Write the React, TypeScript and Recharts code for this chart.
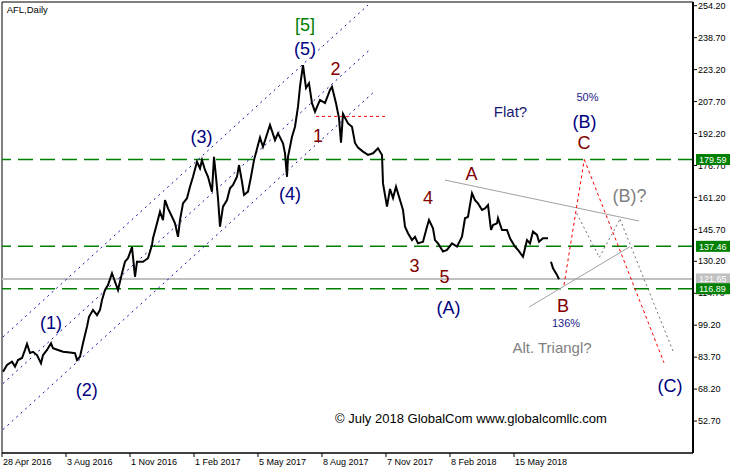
import React from 'react';
import {
  ComposedChart,
  Line,
  XAxis,
  YAxis,
  ReferenceLine,
  ReferenceArea,
  Scatter,
} from 'recharts';

// ---- price series (bar index, approximate close) ----
const barIndex = [
  1, 5, 10, 13, 16, 20, 23, 25, 28, 31,
  35, 39, 41, 45, 49, 51, 56, 61, 68, 73,
  75, 78, 81, 85, 87, 91, 95, 98, 100, 103,
  106, 110, 113, 116, 120, 123, 126, 130, 133, 135,
  141, 146, 150, 151, 155, 158, 161, 163, 166, 170,
  173, 176, 178, 181, 185, 188, 191, 195, 198, 200,
  203, 206, 210, 212, 214, 216, 218, 221, 225, 228,
  231, 235, 237, 240, 242, 246, 249, 252, 258, 261,
  268, 273, 276, 281, 283, 285, 286, 290, 293, 296,
  298, 301, 304, 307, 310, 313, 318, 323, 328, 330,
  334, 337, 339, 341, 346, 350, 353, 356, 361, 366,
  371, 376, 380, 381, 385, 388, 391, 394, 398, 401,
  403, 406, 410, 413, 416, 421, 425, 427, 431, 433,
  436, 441, 445, 450, 455, 460, 463, 466, 470, 473,
  476, 480, 483, 486, 489, 491, 495, 496, 500, 505,
  508, 513, 516, 521, 525, 528, 531, 535, 537, 541,
  546, 547, 549, 551, 555, 557,
];

const closePrice: (number | null)[] = [
  76.6, 79.9, 81.5, 79.1, 82.3, 83.3, 87.2, 90.1, 85.7, 86.3,
  84.7, 80.7, 84.7, 87.2, 90.4, 88.0, 87.2, 86.3, 85.9, 85.6,
  82.3, 83.9, 90.4, 98.5, 103.3, 106.6, 104.1, 106.6, 111.4, 116.3,
  118.7, 124.4, 120.3, 116.3, 124.4, 130.0, 131.7, 137.1, 122.7, 130.0,
  130.0, 131.7, 138.1, 141.4, 148.6, 154.3, 150.2, 159.9, 155.9, 151.8,
  148.6, 142.1, 150.2, 158.3, 160.8, 166.4, 171.2, 178.5, 175.3, 179.3,
  174.5, 171.2, 164.0, 180.9, 171.2, 160.8, 147.0, 156.7, 159.9, 165.6,
  167.2, 171.2, 176.9, 168.8, 162.4, 164.0, 171.2, 179.3, 190.3, 185.8,
  196.3, 189.0, 192.3, 187.4, 182.6, 171.2, 180.9, 190.6, 195.5, 205.2,
  214.9, 225.4, 214.3, 216.6, 206.9, 202.8, 208.5, 207.0, 213.3, 214.9,
  206.9, 199.7, 187.8, 201.7, 197.1, 195.5, 187.6, 185.4, 183.4, 181.8,
  182.6, 185.0, 181.8, 168.0, 156.7, 165.3, 160.9, 166.4, 159.9, 155.1,
  147.0, 143.8, 140.5, 142.1, 138.9, 139.7, 147.0, 150.2, 146.2, 140.5,
  138.9, 134.9, 135.7, 138.9, 137.3, 142.1, 151.1, 151.8, 163.2, 159.9,
  158.3, 155.1, 155.9, 157.5, 145.4, 147.8, 148.6, 151.1, 145.4, 145.4,
  141.4, 137.3, 135.7, 132.4, 140.5, 138.9, 144.6, 143.0, 139.7, 141.4,
  141.4, null, 130.0, 126.8, 123.6, 121.5,
];

// ---- axes ----
const dateTickIndex = [0, 64, 128, 192, 256, 320, 384, 448, 512];
const dateTickLabels = [
  '28 Apr 2016', '3 Aug 2016', '1 Nov 2016', '1 Feb 2017', '5 May 2017',
  '8 Aug 2017', '7 Nov 2017', '8 Feb 2018', '15 May 2018',
];
const priceTicks = [52.7, 68.2, 83.7, 99.2, 114.7, 130.2, 145.7, 161.2, 176.7, 192.2, 207.7, 223.2, 238.7, 254.2];
const xDomain = [0, 691];
const yDomain = [37.2, 256.0];

// ---- horizontal levels ----
const greenLevels = [179.59, 137.46, 116.89];
const silverLevel = 121.65;
const wave1Level = { from: 314, to: 383, price: 200.5 };

// ---- channel and projection lines: [barIndex, price] ----
const channelUpper = [[1, 93.5], [366, 254.5]];
const channelMiddle = [[1, 70.9], [369, 233.4]];
const channelLower = [[1, 48.6], [372, 212.4]];
const flatPath = [[562, 118.7], [582.3, 179.59], [662, 81.0]];
const trianglePath = [[574.7, 153.5], [597.3, 132.1], [618, 150.6], [671.3, 86.3]];
const triangleUpper = [[443, 169.6], [637, 149.75]];
const triangleLower = [[527, 108.0], [628, 137.3]];

// ---- annotations: [text, barIndex, price, kind] ----
const annotations: [string, number, number, string][] = [
  ['[5]', 303, 242.1, 'green'],
  ['(5)', 303, 230.3, 'navy'],
  ['2', 333.5, 220.6, 'maroon'],
  ['1', 316, 188.2, 'maroon'],
  ['(3)', 199.5, 187.4, 'navy'],
  ['(4)', 288, 159.9, 'navy'],
  ['(1)', 49, 97.2, 'navy'],
  ['(2)', 84.7, 65.0, 'navy'],
  ['Flat?', 508.5, 200.2, 'note'],
  ['50%', 585.5, 208.0, 'pct'],
  ['(B)', 582.5, 194.7, 'navy'],
  ['C', 582, 184.7, 'maroon'],
  ['A', 469.5, 169.6, 'maroon'],
  ['4', 426, 158.0, 'maroon'],
  ['(B)?', 627.5, 159.2, 'gray'],
  ['3', 412.5, 125.2, 'maroon'],
  ['5', 442.5, 119.7, 'maroon'],
  ['(A)', 446.5, 104.5, 'navy'],
  ['B', 561, 105.8, 'maroon'],
  ['136%', 564, 98.3, 'pct'],
  ['Alt. Triangl?', 550, 85.9, 'grayNote'],
  ['(C)', 668, 66.9, 'navy'],
  ['© July 2018 GlobalCom www.globalcomllc.com', 469, 51.6, 'copyright'],
  ['AFL,Daily', 4.7, 250.7, 'title'],
];

const FONT = '"Liberation Sans", Arial, sans-serif';

const kindStyle: Record<string, { color: string; size: number; anchor: string }> = {
  green: { color: '#008000', size: 18, anchor: 'middle' },
  navy: { color: '#000080', size: 18, anchor: 'middle' },
  maroon: { color: '#800000', size: 18, anchor: 'middle' },
  gray: { color: '#808080', size: 18, anchor: 'middle' },
  note: { color: '#191970', size: 15, anchor: 'middle' },
  grayNote: { color: '#808080', size: 15, anchor: 'middle' },
  pct: { color: '#1a1a8c', size: 11, anchor: 'middle' },
  copyright: { color: '#000000', size: 13, anchor: 'middle' },
  title: { color: '#000000', size: 9.5, anchor: 'start' },
};

const priceData = barIndex.map((i, k) => ({ i, p: closePrice[k] }));
const labelData = annotations.map(([text, i, p, kind]) => ({ i, p, text, kind }));

const toSegments = (pts: number[][]) =>
  pts.slice(1).map((pt, k) => [
    { x: pts[k][0], y: pts[k][1] },
    { x: pt[0], y: pt[1] },
  ]);

const LabelShape = (props: any) => {
  const { cx, cy, payload } = props;
  const st = kindStyle[payload.kind];
  return (
    <text x={cx} y={cy} textAnchor={st.anchor} fill={st.color} fontSize={st.size} fontFamily={FONT}>
      {payload.text}
    </text>
  );
};

const DateTick = (props: any) => {
  const { x, y, payload } = props;
  const k = dateTickIndex.indexOf(payload.value);
  return (
    <text x={x + 1} y={y} dy="0.71em" fontSize={9} fill="#000" fontFamily={FONT} textAnchor="start">
      {dateTickLabels[k]}
    </text>
  );
};

const PriceBox = (props: any) => {
  const { viewBox, value, fill } = props;
  if (!viewBox) return null;
  const bx = viewBox.x + viewBox.width + 3;
  const y = viewBox.y;
  return (
    <g>
      <rect x={bx} y={y - 5.5} width={34} height={11} fill={fill} />
      <text x={bx + 3} y={y} dy="0.36em" fontSize={9} fill="#ffffff" fontFamily={FONT}>
        {value}
      </text>
    </g>
  );
};

const blueDot = { stroke: '#1010a0', strokeWidth: 1, strokeDasharray: '2 4' };
const CHART_MARGIN = { top: 2, right: 0, bottom: 0, left: 2 };

export default function App() {
  return (
    <div style={{ position: 'absolute', left: 0, top: 0, width: 737, height: 470, background: '#fff' }}>
      <div style={{ position: 'absolute', left: 0, top: 0 }}>
        <ComposedChart width={737} height={470} data={priceData} margin={CHART_MARGIN}>
          <XAxis
            dataKey="i"
            type="number"
            domain={xDomain}
            allowDataOverflow
            ticks={dateTickIndex}
            interval={0}
            height={17}
            tickSize={4}
            tickMargin={2}
            axisLine={{ stroke: '#000' }}
            tickLine={{ stroke: '#000' }}
            tick={<DateTick />}
          />
          <YAxis
            type="number"
            orientation="right"
            domain={yDomain}
            allowDataOverflow
            ticks={priceTicks}
            interval={0}
            width={44}
            tickSize={4}
            tickMargin={1}
            axisLine={{ stroke: '#000', strokeWidth: 2 }}
            tickLine={{ stroke: '#000' }}
            tick={{ fill: '#000', fontSize: 9, fontFamily: FONT, textAnchor: 'start' }}
            tickFormatter={(v: number) => v.toFixed(2)}
          />
          <ReferenceArea
            x1={xDomain[0]}
            x2={xDomain[1]}
            y1={yDomain[0]}
            y2={yDomain[1]}
            fill="none"
            stroke="#000"
            strokeWidth={1}
          />
          <ReferenceLine y={silverLevel} stroke="#c0c0c0" strokeWidth={2} />
          {greenLevels.map((lv) => (
            <ReferenceLine key={lv} y={lv} stroke="#008000" strokeWidth={1.5} strokeDasharray="15 7" />
          ))}
          {[channelUpper, channelMiddle, channelLower].map((pts, k) =>
            toSegments(pts).map((seg, j) => (
              <ReferenceLine key={`ch${k}-${j}`} segment={seg} {...blueDot} />
            ))
          )}
          <ReferenceLine
            segment={[{ x: wave1Level.from, y: wave1Level.price }, { x: wave1Level.to, y: wave1Level.price }]}
            stroke="#ff0000" strokeDasharray="3 3" strokeWidth={1}
          />
          {toSegments(triangleUpper).map((seg, j) => (
            <ReferenceLine key={`tu${j}`} segment={seg} stroke="#a0a0a0" strokeWidth={1} />
          ))}
          {toSegments(triangleLower).map((seg, j) => (
            <ReferenceLine key={`tl${j}`} segment={seg} stroke="#a0a0a0" strokeWidth={1} />
          ))}
          {toSegments(trianglePath).map((seg, j) => (
            <ReferenceLine key={`tp${j}`} segment={seg} stroke="#707070" strokeWidth={1} strokeDasharray="2 3" />
          ))}
          {toSegments(flatPath).map((seg, j) => (
            <ReferenceLine key={`fp${j}`} segment={seg} stroke="#ff0000" strokeWidth={1} strokeDasharray="3 3" />
          ))}
          <Line
            dataKey="p"
            type="linear"
            stroke="#000"
            strokeWidth={2}
            dot={false}
            activeDot={false}
            connectNulls={false}
            isAnimationActive={false}
          />
          <Scatter data={labelData} dataKey="p" shape={<LabelShape />} isAnimationActive={false} />
        </ComposedChart>
      </div>
      {/* overlay: price boxes on the right scale, drawn above the tick labels */}
      <div style={{ position: 'absolute', left: 0, top: 0, pointerEvents: 'none' }}>
        <ComposedChart width={737} height={470} data={priceData} margin={CHART_MARGIN}>
          <XAxis dataKey="i" type="number" domain={xDomain} allowDataOverflow height={17}
            tick={false} axisLine={false} tickLine={false} />
          <YAxis type="number" orientation="right" domain={yDomain} allowDataOverflow width={44}
            tick={false} axisLine={false} tickLine={false} />
          <ReferenceLine y={silverLevel} stroke="none"
            label={(p: any) => <PriceBox {...p} value={silverLevel.toFixed(2)} fill="#c0c0c0" />} />
          {greenLevels.map((lv) => (
            <ReferenceLine key={lv} y={lv} stroke="none"
              label={(p: any) => <PriceBox {...p} value={lv.toFixed(2)} fill="#008000" />} />
          ))}
        </ComposedChart>
      </div>
    </div>
  );
}
